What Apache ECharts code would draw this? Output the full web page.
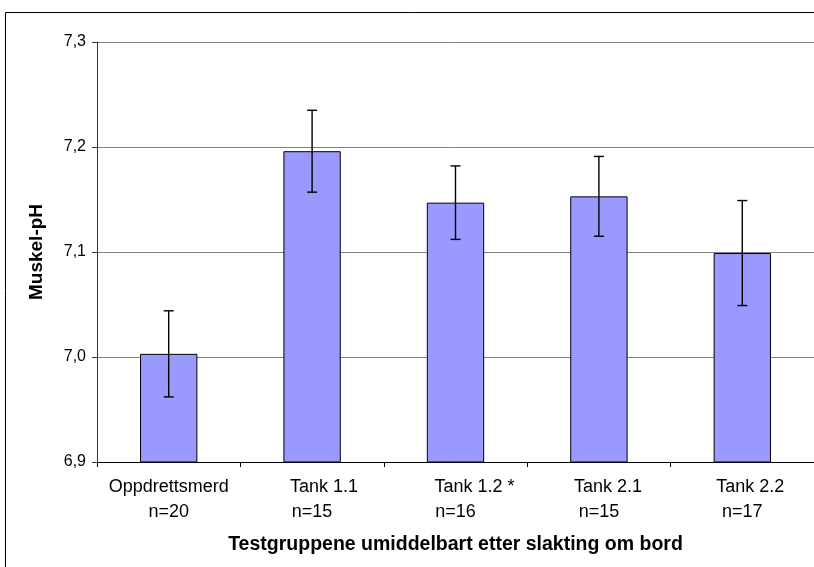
<!DOCTYPE html>
<html>
<head>
<meta charset="utf-8">
<script src="https://cdn.jsdelivr.net/npm/echarts@6/dist/echarts.min.js"></script>
<style>
html,body{margin:0;padding:0;background:#fff;}
#c{width:814px;height:567px;}
</style>
</head>
<body>
<div id="c"></div>
<script>
var groupNames = ['Oppdrettsmerd', 'Tank 1.1', 'Tank 1.2 *', 'Tank 2.1', 'Tank 2.2'];
var groupN = ['n=20', 'n=15', 'n=16', 'n=15', 'n=17'];
var means = [7.003, 7.196, 7.147, 7.153, 7.099];
var errors = [0.041, 0.039, 0.035, 0.038, 0.050];
var yTicks = [6.9, 7.0, 7.1, 7.2, 7.3];

var categories = groupNames.map(function (g, i) { return g + '\n' + groupN[i]; });
var errData = means.map(function (m, i) { return [i, m - errors[i], m + errors[i]]; });

var FONT = 'Liberation Sans, Arial, sans-serif';
var firstLinePad = [0, 24, 38, 18, 16];
var rich = { n: { fontSize: 18, lineHeight: 25, color: '#000', fontFamily: FONT } };
firstLinePad.forEach(function (p, i) {
  rich['t' + i] = { fontSize: 18, lineHeight: 25, color: '#000', fontFamily: FONT, padding: [0, 0, 0, p] };
});

var chart = echarts.init(document.getElementById('c'));
chart.setOption({
  animation: false,
  backgroundColor: '#fff',
  textStyle: { fontFamily: FONT },
  graphic: [{
    type: 'rect', silent: true, z: 100,
    shape: { x: 5.5, y: 12.5, width: 900, height: 700 },
    style: { fill: 'none', stroke: '#000', lineWidth: 1 }
  }],
  grid: { left: 97, top: 42, width: 718, bottom: 105 },
  xAxis: {
    type: 'category',
    data: categories,
    name: 'Testgruppene umiddelbart etter slakting om bord',
    nameLocation: 'middle',
    nameGap: 73,
    nameTextStyle: { fontSize: 19.5, fontWeight: 'bold', color: '#000', fontFamily: FONT },
    axisLine: { lineStyle: { color: '#000', width: 1 } },
    axisTick: { show: true, length: 5, lineStyle: { color: '#000' } },
    axisLabel: {
      color: '#000', fontSize: 18, lineHeight: 25, margin: 13, interval: 0, fontFamily: FONT,
      formatter: function (v, idx) {
        var parts = v.split('\n');
        return '{t' + idx + '|' + parts[0] + '}\n{n|' + parts[1] + '}';
      },
      rich: rich
    }
  },
  yAxis: {
    type: 'value',
    min: yTicks[0],
    max: yTicks[yTicks.length - 1],
    interval: 0.1,
    name: 'Muskel-pH',
    nameLocation: 'middle',
    nameGap: 51,
    nameRotate: 90,
    nameTextStyle: { fontSize: 19, fontWeight: 'bold', color: '#000', fontFamily: FONT },
    axisLine: { show: true, lineStyle: { color: '#333', width: 1 } },
    axisTick: { show: true, length: 5, lineStyle: { color: '#333' } },
    axisLabel: {
      color: '#000', fontSize: 16, margin: 11, fontFamily: FONT,
      formatter: function (v) { return v.toFixed(1).replace('.', ','); }
    },
    splitLine: { show: true, lineStyle: { color: '#808080', width: 1 } }
  },
  series: [
    {
      type: 'bar',
      data: means,
      barWidth: '40%',
      itemStyle: { color: '#9999FF', borderColor: '#000', borderWidth: 1 }
    },
    {
      type: 'custom',
      data: errData,
      z: 10,
      renderItem: function (params, api) {
        var x = api.value(0);
        var lo = api.coord([x, api.value(1)]);
        var hi = api.coord([x, api.value(2)]);
        var hw = 5;
        var st = { stroke: '#000', lineWidth: 1.4 };
        return {
          type: 'group',
          children: [
            { type: 'line', shape: { x1: hi[0], y1: hi[1], x2: lo[0], y2: lo[1] }, style: st },
            { type: 'line', shape: { x1: hi[0] - hw, y1: hi[1], x2: hi[0] + hw, y2: hi[1] }, style: st },
            { type: 'line', shape: { x1: lo[0] - hw, y1: lo[1], x2: lo[0] + hw, y2: lo[1] }, style: st }
          ]
        };
      }
    }
  ]
});
</script>
</body>
</html>
